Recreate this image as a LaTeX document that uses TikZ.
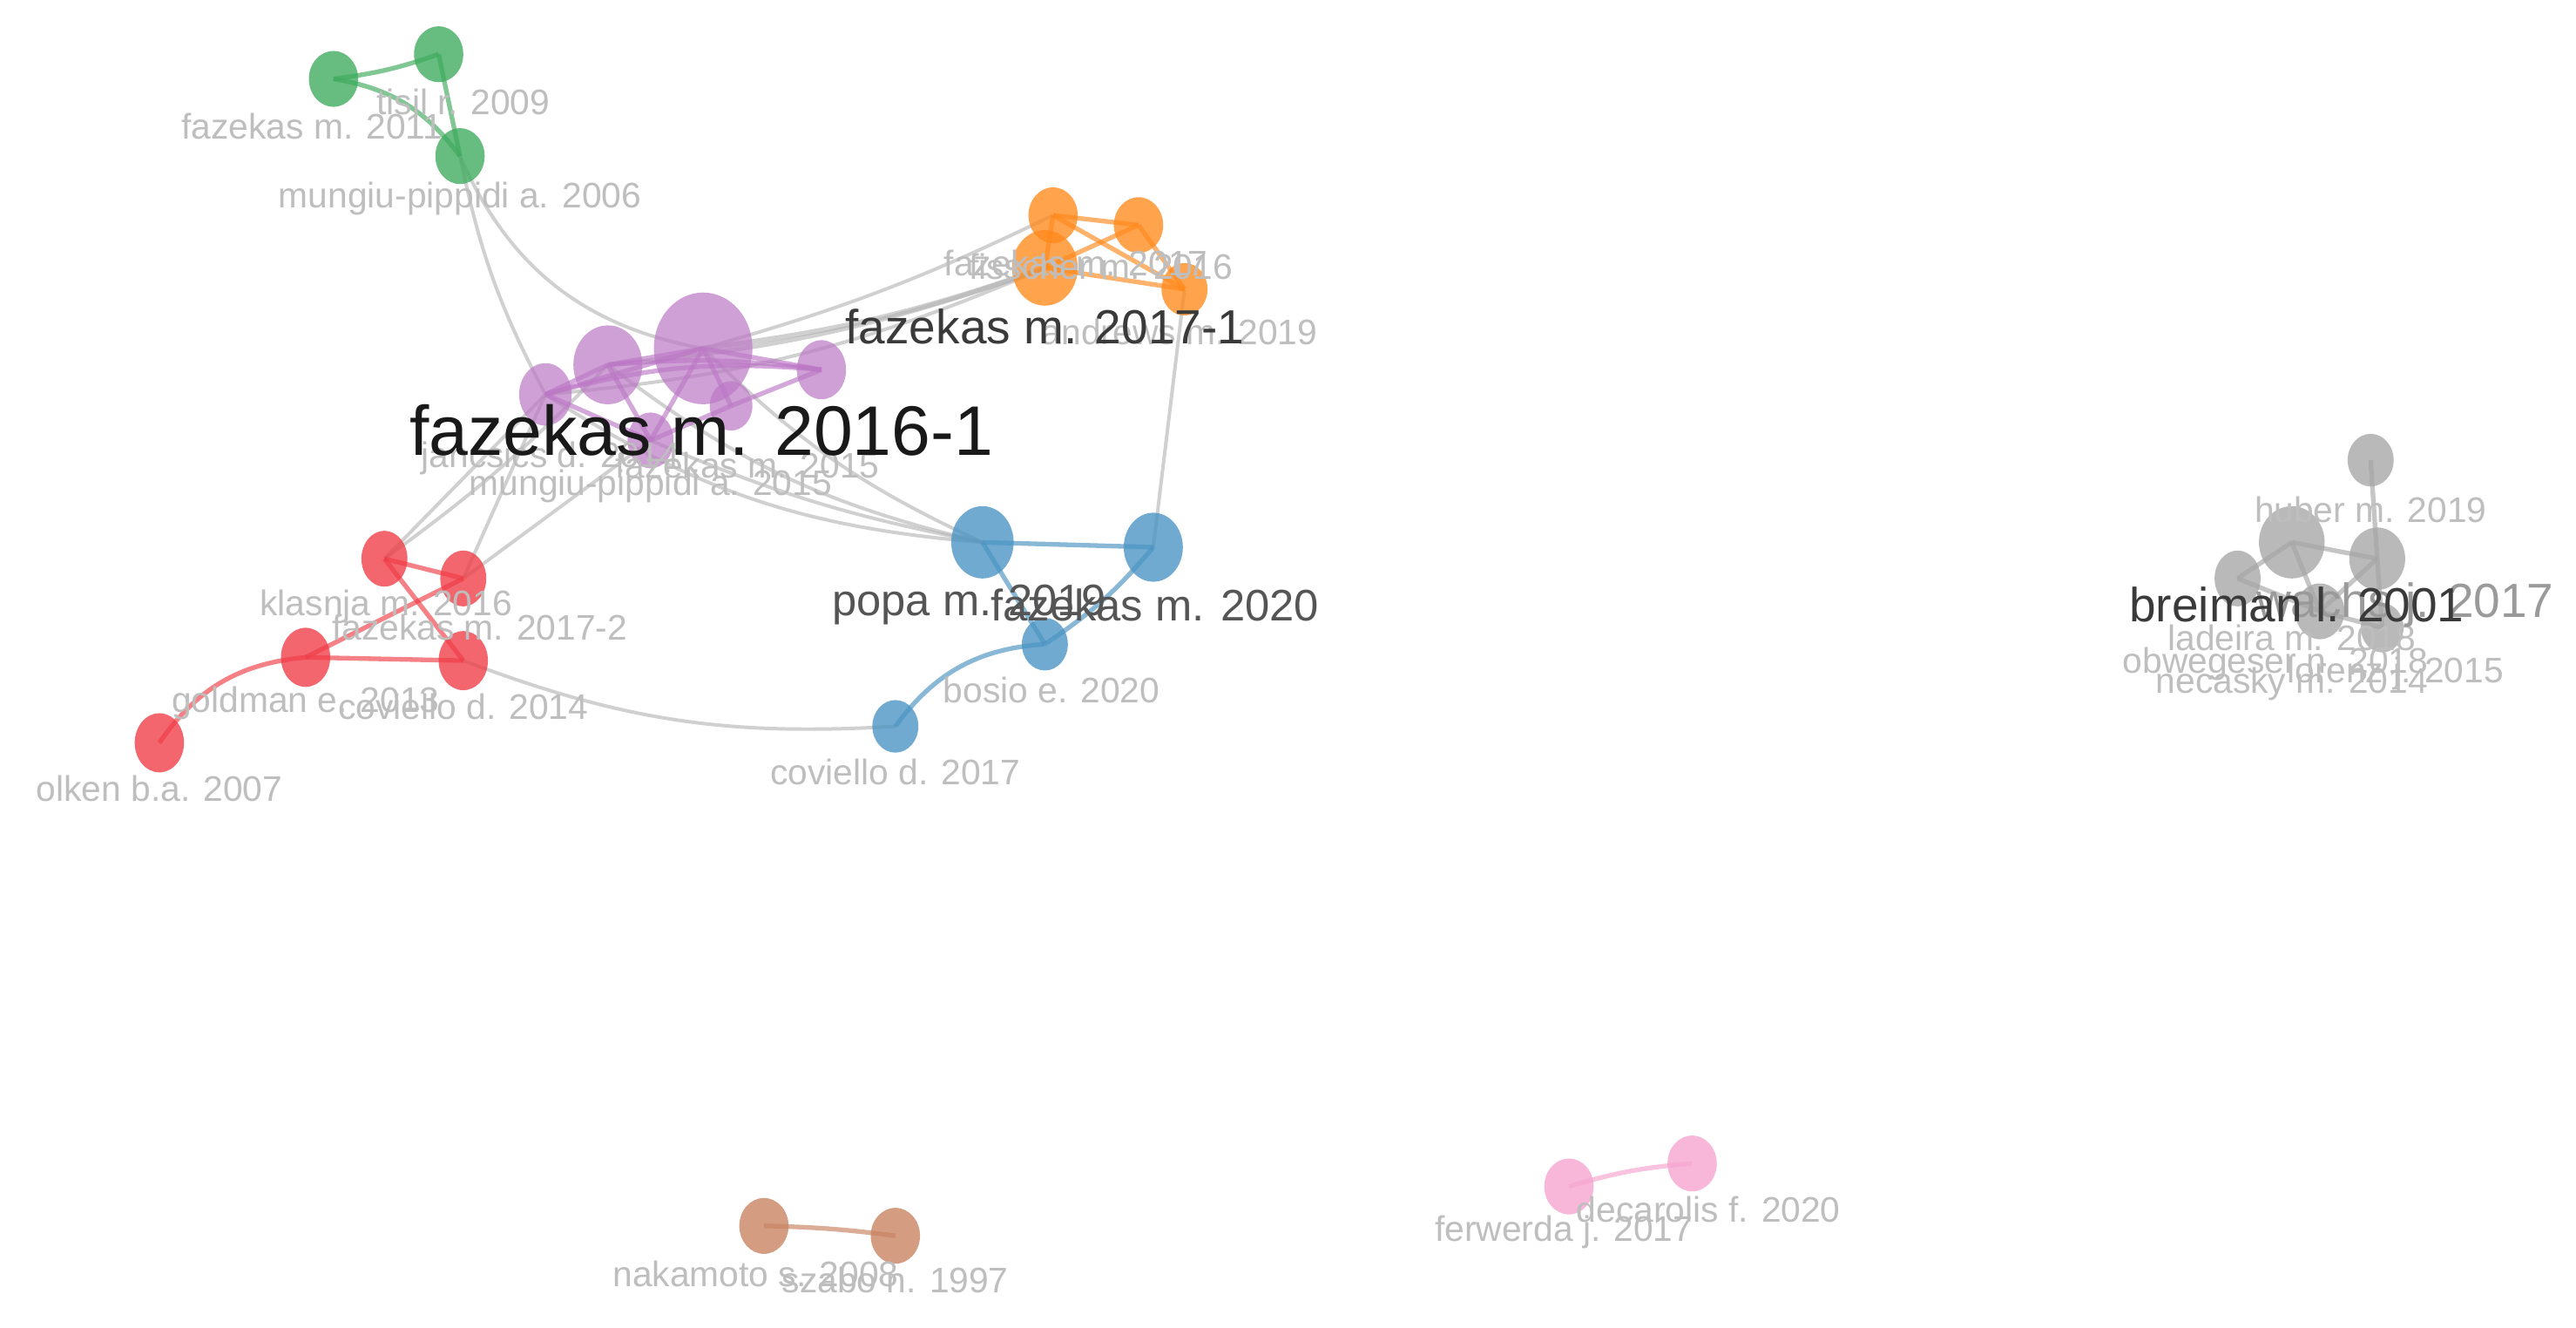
\documentclass[tikz,border=0pt]{standalone}
\usepackage{fontspec}
\setmainfont{Liberation Sans}
\usetikzlibrary{shapes.geometric}
\definecolor{cgreen}{HTML}{3DAA5C}
\definecolor{corange}{HTML}{FF8A1C}
\definecolor{cpurple}{HTML}{BC78C6}
\definecolor{cblue}{HTML}{4A93C3}
\definecolor{cred}{HTML}{F03C46}
\definecolor{cgray}{HTML}{A6A6A6}
\definecolor{cbrown}{HTML}{C98260}
\definecolor{cpink}{HTML}{F7A3CF}
\definecolor{lbl}{HTML}{BEBEBE}
\definecolor{mlbl}{HTML}{9A9A9A}
\definecolor{dlbl}{HTML}{555555}
\definecolor{ddlbl}{HTML}{3A3A3A}
\tikzset{
  vtx/.style n args={3}{ellipse, fill=#1, fill opacity=0.78, draw=none,
    minimum width=#2*0.04cm, minimum height=#3*0.04cm, inner sep=0pt},
  cedge/.style={draw=#1, line width=1.6pt, draw opacity=0.65},
  link/.style={draw=black!30, line width=1.2pt, draw opacity=0.6},
  lab/.style={text=lbl, font=\fontsize{12.3}{13}\selectfont, inner sep=0pt},
  midlab/.style={text=dlbl, font=\fontsize{15.3}{16}\selectfont, inner sep=0pt},
  biglab/.style={text=ddlbl, font=\fontsize{16.6}{17}\selectfont, inner sep=0pt},
  hugelab/.style={text=black!90, font=\fontsize{24.3}{25}\selectfont, inner sep=0pt},
}
\begin{document}
\begin{tikzpicture}[x=0.02cm,y=-0.02cm]
\fill[white] (0,0) rectangle (1568,808);
\useasboundingbox (0,0) rectangle (1568,808);

% ---------------- node centres ----------------
\coordinate (G1) at (203,48);
\coordinate (G2) at (267,33);
\coordinate (G3) at (280,95);
\coordinate (O1) at (641,131);
\coordinate (O2) at (693,137);
\coordinate (O3) at (636,163);
\coordinate (O4) at (721,176);
\coordinate (P1) at (428,212);
\coordinate (P2) at (370,222);
\coordinate (P3) at (332,240);
\coordinate (P4) at (500,225);
\coordinate (P5) at (396,268);
\coordinate (P6) at (445,247);
\coordinate (B1) at (598,330);
\coordinate (B2) at (702,333);
\coordinate (B3) at (636,392);
\coordinate (B4) at (545,442);
\coordinate (R1) at (234,340);
\coordinate (R2) at (282,352);
\coordinate (R3) at (186,400);
\coordinate (R4) at (282,402);
\coordinate (R5) at (97,452);
\coordinate (Y1) at (1443,280);
\coordinate (Y2) at (1395,330);
\coordinate (Y3) at (1447,340);
\coordinate (Y4) at (1362,352);
\coordinate (Y5) at (1412,372);
\coordinate (Y6) at (1450,382);
\coordinate (N1) at (465,746);
\coordinate (N2) at (545,752);
\coordinate (K1) at (955,722);
\coordinate (K2) at (1030,708);

% ---------------- inter-cluster links ----------------
\draw[link] (G3) to[bend right=8] (P3);
\draw[link] (G3) to[bend right=28] (P1);
\draw[link, line width=1.8pt] (P1) to[bend right=6] (O3);
\draw[link, line width=1.6pt] (P2) to[bend right=7] (O3);
\draw[link] (P3) to[bend right=9] (O3);
\draw[link] (P1) to[bend right=5] (O1);
\draw[link] (O4) -- (B2);
\draw[link] (P1) to[bend right=10] (B1);
\draw[link] (P2) to[bend right=12] (B1);
\draw[link] (P3) to[bend right=14] (B1);
\draw[link] (P5) to[bend right=6] (B1);
\draw[link] (R1) -- (P3);
\draw[link] (R1) to[bend right=5] (P2);
\draw[link] (R2) -- (P3);
\draw[link] (R2) -- (P5);
\draw[link] (R4) to[bend right=12] (B4);

% ---------------- intra-cluster edges ----------------
\draw[cedge=cgreen] (G1) to[bend right=6] (G2);
\draw[cedge=cgreen] (G1) to[bend left=22] (G3);
\draw[cedge=cgreen] (G2) -- (G3);

\draw[cedge=corange] (O1) -- (O2);
\draw[cedge=corange] (O1) -- (O3);
\draw[cedge=corange] (O1) -- (O4);
\draw[cedge=corange] (O3) -- (O2);
\draw[cedge=corange] (O3) -- (O4);
\draw[cedge=corange] (O2) -- (O4);

\draw[cedge=cpurple] (P1) -- (P2);
\draw[cedge=cpurple] (P1) -- (P3);
\draw[cedge=cpurple] (P1) -- (P4);
\draw[cedge=cpurple] (P2) -- (P3);
\draw[cedge=cpurple] (P2) to[bend left=6] (P4);
\draw[cedge=cpurple] (P3) to[bend left=10] (P4);
\draw[cedge=cpurple] (P1) -- (P5);
\draw[cedge=cpurple] (P2) -- (P5);
\draw[cedge=cpurple] (P1) -- (P6);
\draw[cedge=cpurple] (P4) -- (P6);
\draw[cedge=cpurple] (P5) -- (P6);
\draw[cedge=cpurple] (P3) -- (P5);

\draw[cedge=cblue] (B1) -- (B2);
\draw[cedge=cblue] (B1) -- (B3);
\draw[cedge=cblue] (B2) to[bend left=8] (B3);
\draw[cedge=cblue] (B3) to[bend right=25] (B4);

\draw[cedge=cred] (R1) -- (R2);
\draw[cedge=cred] (R1) -- (R4);
\draw[cedge=cred] (R3) -- (R2);
\draw[cedge=cred] (R3) -- (R4);
\draw[cedge=cred] (R3) to[bend right=25] (R5);

\draw[cedge=cgray] (Y1) -- (Y3);
\draw[cedge=cgray] (Y2) -- (Y3);
\draw[cedge=cgray] (Y2) -- (Y4);
\draw[cedge=cgray] (Y2) -- (Y5);
\draw[cedge=cgray] (Y3) -- (Y5);
\draw[cedge=cgray] (Y4) -- (Y5);
\draw[cedge=cgray] (Y3) -- (Y6);
\draw[cedge=cgray] (Y5) -- (Y6);

\draw[cedge=cbrown] (N1) to[bend left=3] (N2);
\draw[cedge=cpink] (K1) to[bend left=6] (K2);

% ---------------- vertices ----------------
\node[vtx={cgreen}{15}{17}] (g1) at (G1) {};
\node[vtx={cgreen}{15}{17}] (g2) at (G2) {};
\node[vtx={cgreen}{15}{17}] (g3) at (G3) {};

\node[vtx={corange}{15}{17}] (o1) at (O1) {};
\node[vtx={corange}{15}{17}] (o2) at (O2) {};
\node[vtx={corange}{20}{23}] (o3) at (O3) {};
\node[vtx={corange}{14}{16}] (o4) at (O4) {};

\node[vtx={cpurple}{30}{34}, fill opacity=0.7] (p1) at (P1) {};
\node[vtx={cpurple}{21}{24}, fill opacity=0.7] (p2) at (P2) {};
\node[vtx={cpurple}{16}{19}, fill opacity=0.7] (p3) at (P3) {};
\node[vtx={cpurple}{15}{18}, fill opacity=0.7] (p4) at (P4) {};
\node[vtx={cpurple}{14}{17}, fill opacity=0.7] (p5) at (P5) {};
\node[vtx={cpurple}{13}{15}, fill opacity=0.7] (p6) at (P6) {};

\node[vtx={cblue}{19}{22}] (b1) at (B1) {};
\node[vtx={cblue}{18}{21}] (b2) at (B2) {};
\node[vtx={cblue}{14}{16}] (b3) at (B3) {};
\node[vtx={cblue}{14}{16}] (b4) at (B4) {};

\node[vtx={cred}{14}{17}] (r1) at (R1) {};
\node[vtx={cred}{14}{17}] (r2) at (R2) {};
\node[vtx={cred}{15}{18}] (r3) at (R3) {};
\node[vtx={cred}{15}{18}] (r4) at (R4) {};
\node[vtx={cred}{15}{18}] (r5) at (R5) {};

\node[vtx={cgray}{14}{16}] (y1) at (Y1) {};
\node[vtx={cgray}{20}{22}] (y2) at (Y2) {};
\node[vtx={cgray}{17}{19}] (y3) at (Y3) {};
\node[vtx={cgray}{14}{17}] (y4) at (Y4) {};
\node[vtx={cgray}{15}{17}] (y5) at (Y5) {};
\node[vtx={cgray}{13}{15}] (y6) at (Y6) {};

\node[vtx={cbrown}{15}{17}] (n1) at (N1) {};
\node[vtx={cbrown}{15}{17}] (n2) at (N2) {};

\node[vtx={cpink}{15}{17}] (k1) at (K1) {};
\node[vtx={cpink}{15}{17}] (k2) at (K2) {};

% ---------------- labels ----------------
\node[lab] (lg1) at (190,77) {fazekas m. 2011};
\node[lab] (lg2) at (282,62) {tisil r. 2009};
\node[lab] (lg3) at (280,121) {mungiu-pippidi a. 2006};

\node[lab] (lo1) at (670,162) {fisscher m. 2016};
\node[lab] (lo2) at (655,160) {fazekas m. 2017};
\node[lab] (lo4) at (718,202) {andrews m. 2019};
\node[biglab] (lo3) at (636,199) {fazekas m. 2017-1};

\node[lab] (lp7) at (335,279) {jancsics d. 2014};
\node[lab] (lp5) at (455,283) {fazekas m. 2015};
\node[lab] (lp3) at (396,296) {mungiu-pippidi a. 2015};
\node[hugelab] (lp1) at (427,262) {fazekas m. 2016-1};

\node[midlab] (lb1) at (590,368) {popa m. 2019};
\node[midlab] (lb2) at (703,368) {fazekas m. 2020};
\node[lab] (lb3) at (640,420) {bosio e. 2020};
\node[lab] (lb4) at (545,470) {coviello d. 2017};

\node[lab] (lr1) at (235,369) {klasnja m. 2016};
\node[lab] (lr2) at (292,382) {fazekas m. 2017-2};
\node[lab] (lr3) at (186,428) {goldman e. 2013};
\node[lab] (lr4) at (282,430) {coviello d. 2014};
\node[lab] (lr5) at (97,480) {olken b.a. 2007};

\node[lab] (ly1) at (1443,310) {huber m. 2019};
\node[lab] (ly7) at (1395,388) {ladeira m. 2018};
\node[lab] (ly3) at (1385,404) {obwegeser n. 2018};
\node[lab] (ly5) at (1458,410) {lorenz j. 2015};
\node[lab] (ly4) at (1395,416) {necasky m. 2014};
\node[biglab, text=mlbl] (ly6) at (1464,368) {wachs j. 2017};
\node[biglab] (ly2) at (1398,368) {breiman l. 2001};

\node[lab] (ln1) at (460,775) {nakamoto s. 2008};
\node[lab] (ln2) at (545,779) {szabo n. 1997};

\node[lab] (lk1) at (952,750) {ferwerda j. 2017};
\node[lab] (lk2) at (1040,736) {decarolis f. 2020};
\end{tikzpicture}
\end{document}
